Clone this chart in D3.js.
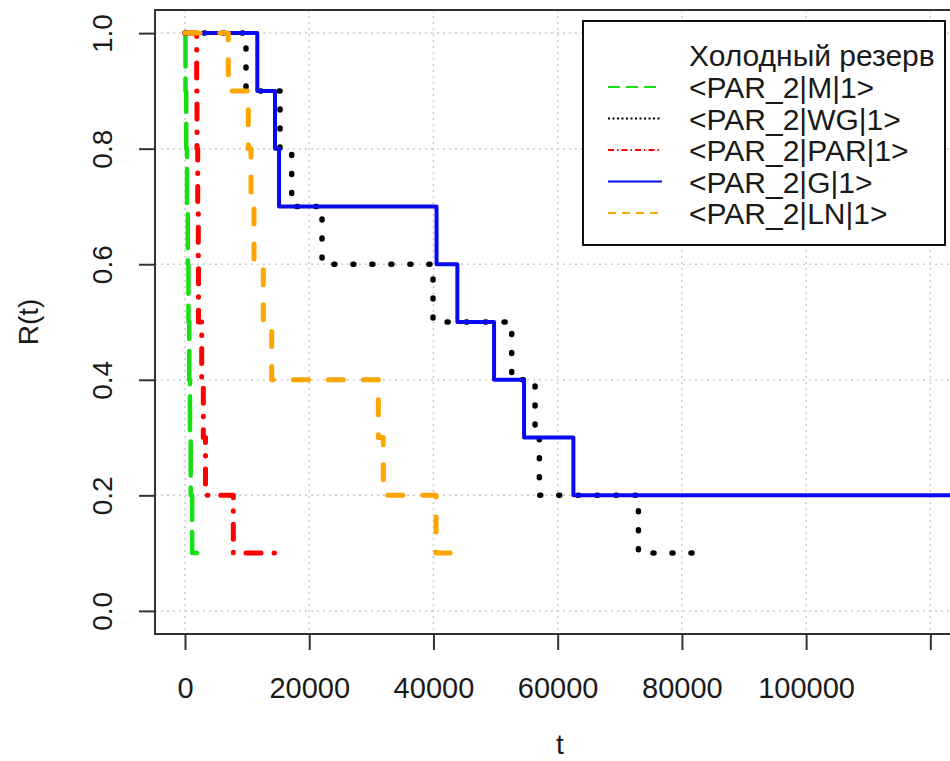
<!DOCTYPE html>
<html>
<head>
<meta charset="utf-8">
<script src="https://cdn.jsdelivr.net/npm/d3@7/dist/d3.min.js"></script>
<style>
  body { margin: 0; background: #fff; }
  text { font-family: "Liberation Sans", Arial, Helvetica, sans-serif; fill: #1a1a1a; }
</style>
</head>
<body>
<svg id="chart" width="950" height="761"></svg>
<script>
// Reliability step functions R(t) for each cold-standby configuration
const seriesNames = ["<PAR_2|M|1>", "<PAR_2|WG|1>", "<PAR_2|PAR|1>", "<PAR_2|G|1>", "<PAR_2|LN|1>"];
const legendTitle = "Холодный резерв";

const timesM   = [0, 80, 200, 330, 450, 560, 680, 800, 920, 1150, 1950];
const relM     = [1.0, 0.9, 0.8, 0.7, 0.6, 0.5, 0.4, 0.3, 0.2, 0.1, 0.1];

const timesWG  = [0, 9820, 15300, 17180, 22060, 39930, 52600, 56360, 57050, 73000, 84000];
const relWG    = [1.0, 0.9, 0.8, 0.7, 0.6, 0.5, 0.4, 0.3, 0.2, 0.1, 0.1];

const timesPAR = [0, 1880, 1930, 2050, 2140, 2170, 2690, 2950, 3300, 7780, 15800];
const relPAR   = [1.0, 0.9, 0.8, 0.7, 0.6, 0.5, 0.4, 0.3, 0.2, 0.1, 0.1];

const timesG   = [0, 11640, 14490, 15140, 40500, 43850, 49760, 54590, 62530, 124500];
const relG     = [1.0, 0.9, 0.8, 0.7, 0.6, 0.5, 0.4, 0.3, 0.2, 0.2];

const timesLN  = [0, 6970, 10190, 10630, 11110, 12610, 13960, 31130, 31930, 40420, 43900];
const relLN    = [1.0, 0.9, 0.8, 0.7, 0.6, 0.5, 0.4, 0.3, 0.2, 0.1, 0.1];

const xLimits = [-4830, 125580];
const yLimits = [-0.04, 1.04];
const xTickValues = [0, 20000, 40000, 60000, 80000, 100000, 120000];
const xTickLabels = ["0", "20000", "40000", "60000", "80000", "100000", ""];
const yTickValues = [0, 0.2, 0.4, 0.6, 0.8, 1.0];
const yTickLabels = ["0.0", "0.2", "0.4", "0.6", "0.8", "1.0"];

// line styles (plot width, dash pattern; legend width, legend dash)
const styles = [
  { color: "#14e014", width: 4.5, dash: "34 12", lw: 2, ldash: "12 6" },
  { color: "#000000", width: 5.5, dash: "1 18",  lw: 2, ldash: "2 2.5" },
  { color: "#ff0000", width: 5,   dash: "15 13 0.5 13", lw: 2, ldash: "6 3 1.5 3" },
  { color: "#0a0aee", width: 4,   dash: null,    lw: 2, ldash: null },
  { color: "#ffa500", width: 5,   dash: "15 20", lw: 2, ldash: "8 6" }
];

const series = [
  { times: timesM,   rel: relM },
  { times: timesWG,  rel: relWG },
  { times: timesPAR, rel: relPAR },
  { times: timesG,   rel: relG },
  { times: timesLN,  rel: relLN }
];

const svg = d3.select("#chart");
const frame = { left: 155, right: 965, top: 10, bottom: 634 };

const x = d3.scaleLinear().domain(xLimits).range([frame.left, frame.right]);
const y = d3.scaleLinear().domain(yLimits).range([frame.bottom, frame.top]);

// dotted grid
const grid = svg.append("g").attr("stroke", "#cccccc").attr("stroke-width", 1.5).attr("stroke-dasharray", "2 4");
grid.selectAll("line.v").data(xTickValues).join("line")
  .attr("x1", d => x(d)).attr("x2", d => x(d)).attr("y1", frame.top).attr("y2", frame.bottom);
grid.selectAll("line.h").data(yTickValues).join("line")
  .attr("x1", frame.left).attr("x2", frame.right).attr("y1", d => y(d)).attr("y2", d => y(d));

// step curves
const line = d3.line().x(d => x(d[0])).y(d => y(d[1])).curve(d3.curveStepAfter);
series.forEach((s, i) => {
  const pts = s.times.map((t, k) => [t, s.rel[k]]);
  svg.append("path")
    .attr("d", line(pts))
    .attr("fill", "none")
    .attr("stroke", styles[i].color)
    .attr("stroke-width", styles[i].width)
    .attr("stroke-linecap", "round")
    .attr("stroke-linejoin", "round")
    .attr("stroke-dasharray", styles[i].dash);
});

// plot frame
svg.append("rect")
  .attr("x", frame.left).attr("y", frame.top)
  .attr("width", frame.right - frame.left).attr("height", frame.bottom - frame.top)
  .attr("fill", "none").attr("stroke", "#333").attr("stroke-width", 2);

// x axis
const xAxis = svg.append("g").attr("transform", `translate(0,${frame.bottom})`)
  .call(d3.axisBottom(x).tickValues(xTickValues).tickSize(16).tickPadding(27)
    .tickFormat((d, i) => xTickLabels[i]));
xAxis.select(".domain").remove();
xAxis.selectAll(".tick line").attr("stroke", "#333").attr("stroke-width", 2);
xAxis.selectAll(".tick text").attr("font-size", 29).attr("fill", "#1a1a1a")
  .style("font-family", "'Liberation Sans', Arial, sans-serif");

// y axis with labels parallel to the axis
const yAxis = svg.append("g").attr("transform", `translate(${frame.left},0)`)
  .call(d3.axisLeft(y).tickValues(yTickValues).tickSize(16)
    .tickFormat((d, i) => yTickLabels[i]));
yAxis.select(".domain").remove();
yAxis.selectAll(".tick line").attr("stroke", "#333").attr("stroke-width", 2);
yAxis.selectAll(".tick text")
  .attr("transform", "rotate(-90)")
  .attr("x", 0).attr("y", -43).attr("dy", 0)
  .attr("text-anchor", "middle")
  .attr("font-size", 28).attr("fill", "#1a1a1a")
  .style("font-family", "'Liberation Sans', Arial, sans-serif");

// axis titles
svg.append("text").attr("x", (frame.left + frame.right) / 2).attr("y", 754)
  .attr("text-anchor", "middle").attr("font-size", 28).text("t");
svg.append("text").attr("transform", `translate(38,${(frame.top + frame.bottom) / 2}) rotate(-90)`)
  .attr("text-anchor", "middle").attr("font-size", 28).text("R(t)");

// legend
const lg = svg.append("g");
lg.append("rect").attr("x", 583).attr("y", 21).attr("width", 362).attr("height", 224)
  .attr("fill", "#fff").attr("stroke", "#111").attr("stroke-width", 2);
lg.append("text").attr("x", 689).attr("y", 66).attr("font-size", 30).text(legendTitle);
seriesNames.forEach((name, i) => {
  const base = 98 + i * 31.5;
  lg.append("line")
    .attr("x1", 608).attr("x2", 662).attr("y1", base - 11).attr("y2", base - 11)
    .attr("stroke", styles[i].color).attr("stroke-width", styles[i].lw)
    .attr("stroke-dasharray", styles[i].ldash);
  lg.append("text").attr("x", 689).attr("y", base).attr("font-size", 30).text(name);
});
</script>
</body>
</html>
